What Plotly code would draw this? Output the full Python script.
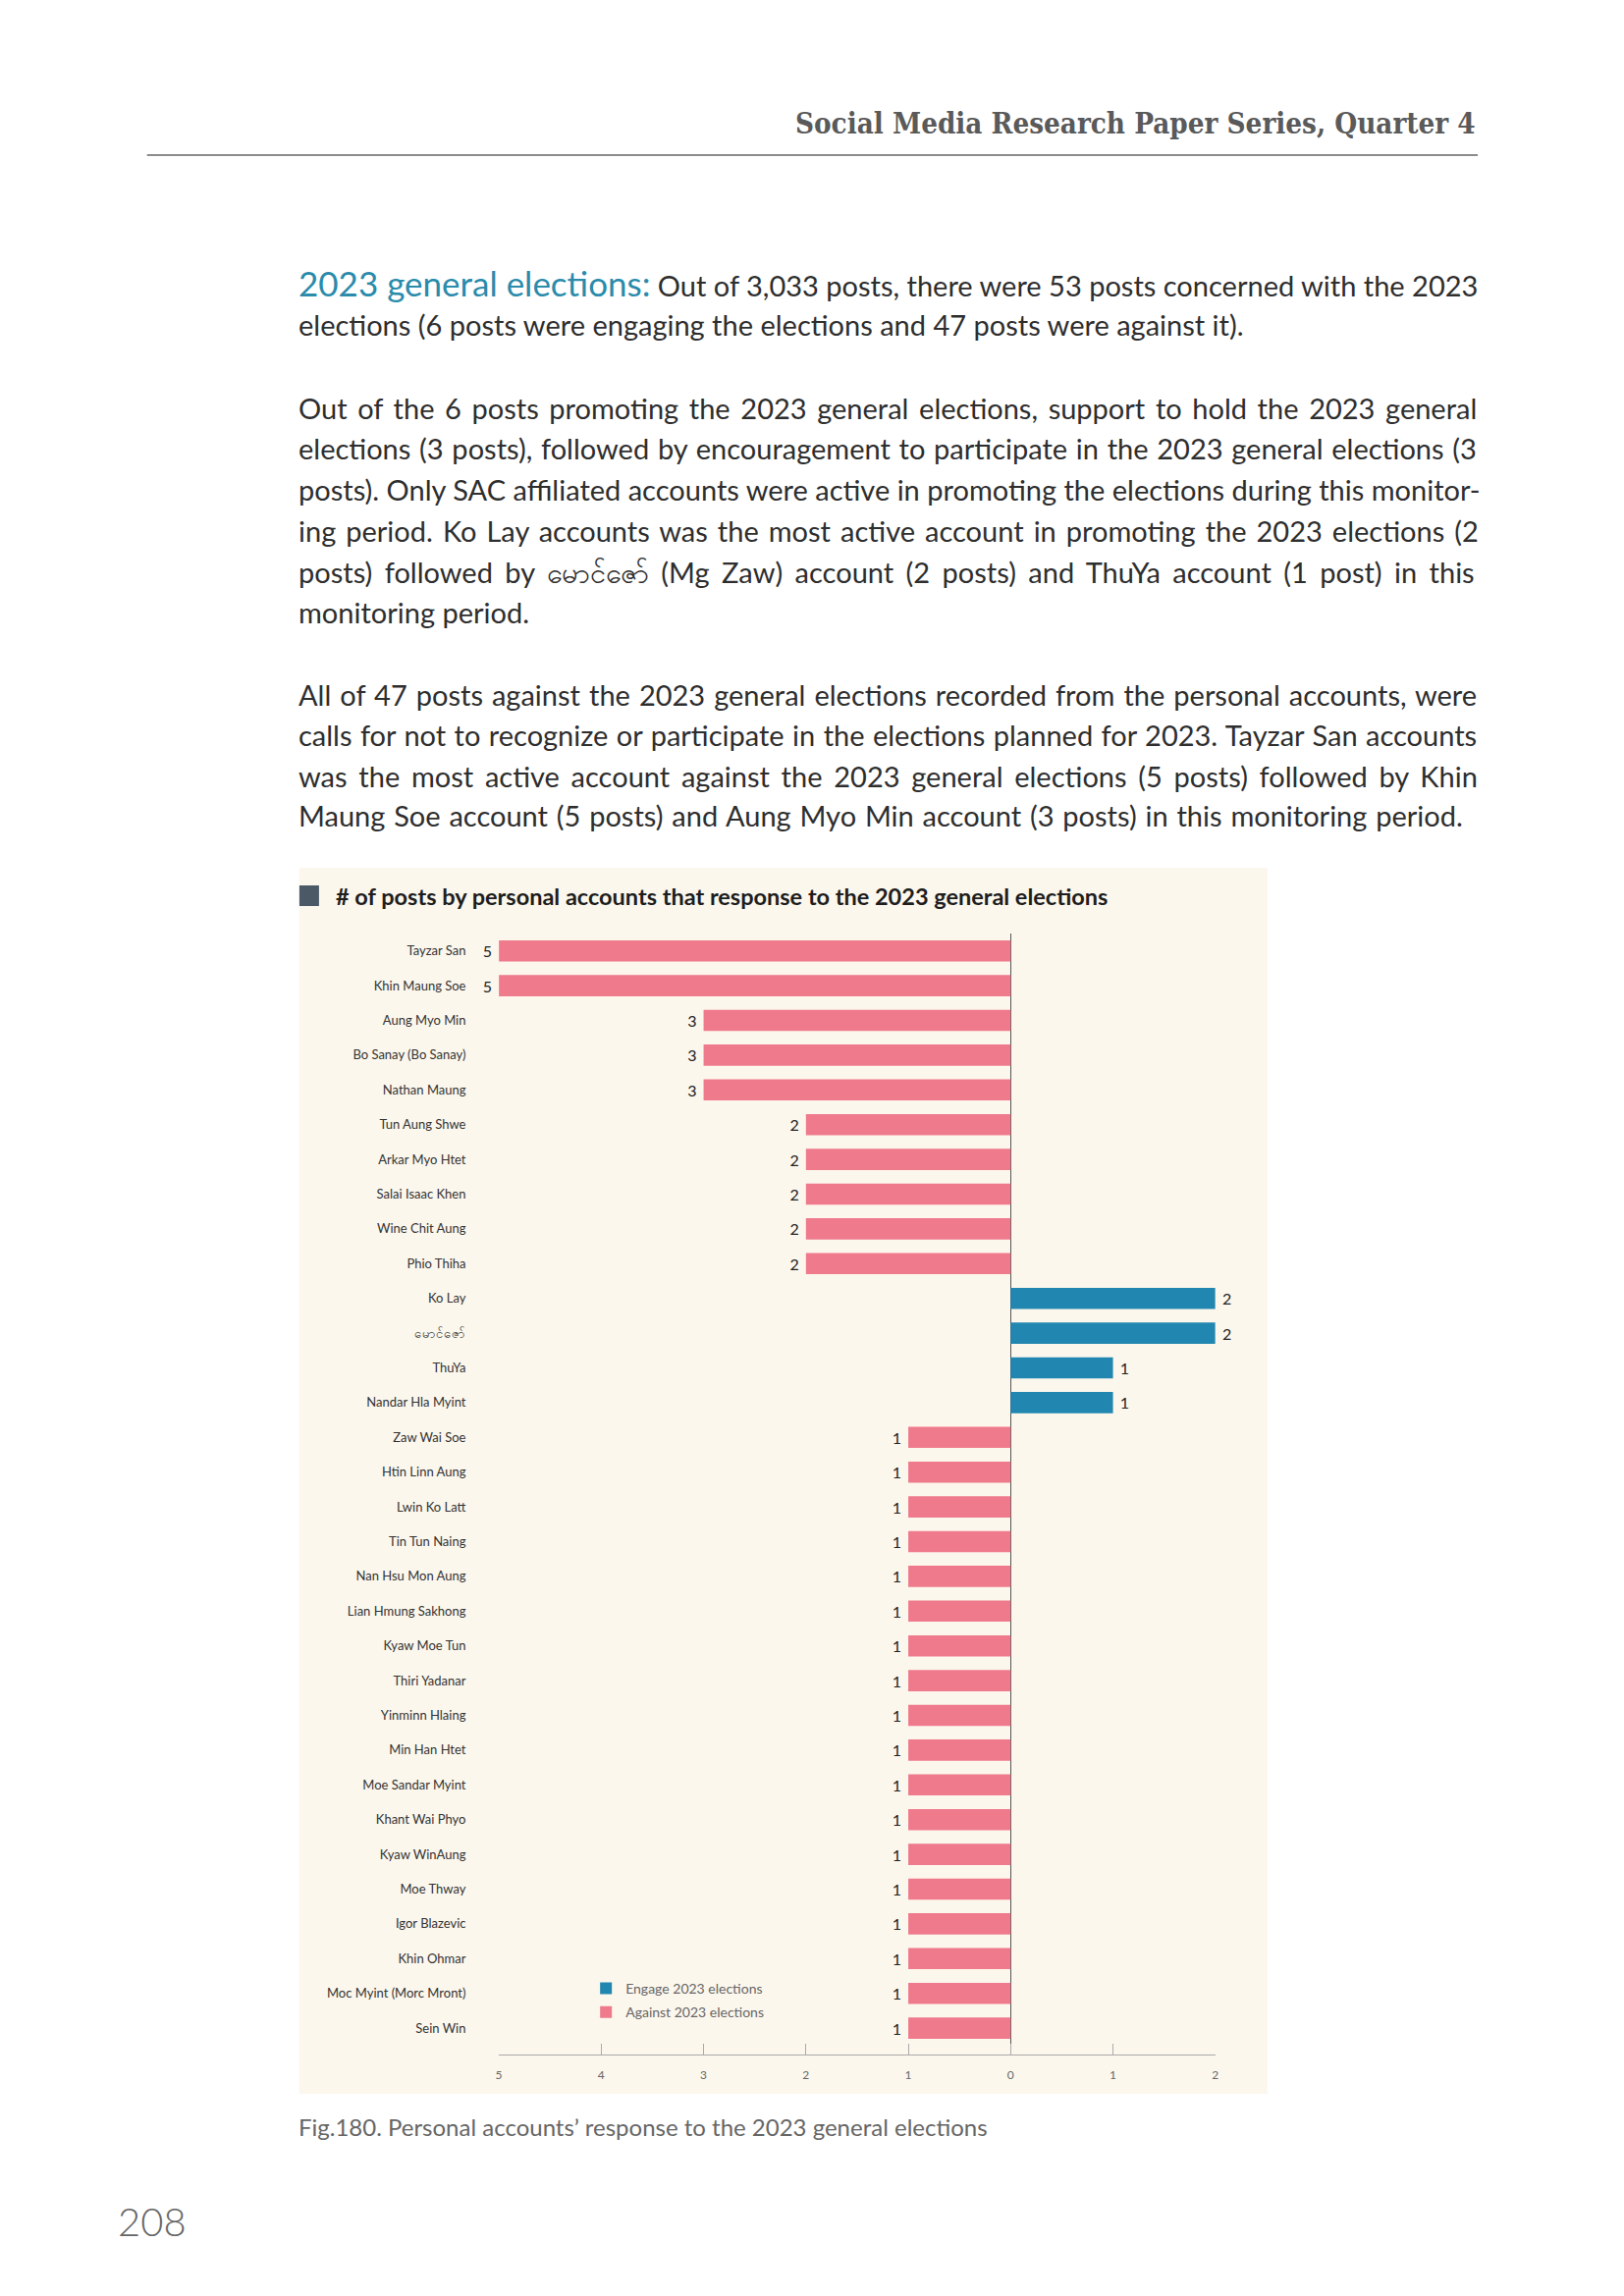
import plotly.graph_objects as go

# ---------------- data ----------------
accounts = [
    "Tayzar San", "Khin Maung Soe", "Aung Myo Min", "Bo Sanay (Bo Sanay)", "Nathan Maung",
    "Tun Aung Shwe", "Arkar Myo Htet", "Salai Isaac Khen", "Wine Chit Aung", "Phio Thiha",
    "Ko Lay", "မောင်ဇော်", "ThuYa", "Nandar Hla Myint",
    "Zaw Wai Soe", "Htin Linn Aung", "Lwin Ko Latt", "Tin Tun Naing", "Nan Hsu Mon Aung",
    "Lian Hmung Sakhong", "Kyaw Moe Tun", "Thiri Yadanar", "Yinminn Hlaing", "Min Han Htet",
    "Moe Sandar Myint", "Khant Wai Phyo", "Kyaw WinAung", "Moe Thway", "Igor Blazevic",
    "Khin Ohmar", "Moc Myint (Morc Mront)", "Sein Win",
]
engage_accounts = ["Ko Lay", "မောင်ဇော်", "ThuYa", "Nandar Hla Myint"]
engage_posts = [2, 2, 1, 1]
against_accounts = [
    "Tayzar San", "Khin Maung Soe", "Aung Myo Min", "Bo Sanay (Bo Sanay)", "Nathan Maung",
    "Tun Aung Shwe", "Arkar Myo Htet", "Salai Isaac Khen", "Wine Chit Aung", "Phio Thiha",
    "Zaw Wai Soe", "Htin Linn Aung", "Lwin Ko Latt", "Tin Tun Naing", "Nan Hsu Mon Aung",
    "Lian Hmung Sakhong", "Kyaw Moe Tun", "Thiri Yadanar", "Yinminn Hlaing", "Min Han Htet",
    "Moe Sandar Myint", "Khant Wai Phyo", "Kyaw WinAung", "Moe Thway", "Igor Blazevic",
    "Khin Ohmar", "Moc Myint (Morc Mront)", "Sein Win",
]
against_posts = [5, 5, 3, 3, 3, 2, 2, 2, 2, 2, 1, 1, 1, 1, 1, 1, 1, 1, 1, 1, 1, 1, 1, 1, 1, 1, 1, 1]
x_tick_values = [-5, -4, -3, -2, -1, 0, 1, 2]
x_tick_labels = ["5", "4", "3", "2", "1", "0", "1", "2"]
series_names = ["Engage 2023 elections", "Against 2023 elections"]

header_text = "Social Media Research Paper Series, Quarter 4"
chart_title = "# of posts by personal accounts that response to the 2023 general elections"
caption = "Fig.180. Personal accounts’ response to the 2023 general elections"
page_number = "208"
para1 = [
    "<span style='color:#2a8bab;font-size:35px'>2023 general elections:</span> Out of 3,033 posts, there were 53 posts concerned with the 2023",
    "elections (6 posts were engaging the elections and 47 posts were against it).",
]
para2 = [
    "Out of the 6 posts promoting the 2023 general elections, support to hold the 2023 general",
    "elections (3 posts), followed by encouragement to participate in the 2023 general elections (3",
    "posts). Only SAC affiliated accounts were active in promoting the elections during this monitor-",
    "ing period. Ko Lay accounts was the most active account in promoting the 2023 elections (2",
    "posts) followed by မောင်ဇော် (Mg Zaw) account (2 posts) and ThuYa account (1 post) in this",
    "monitoring period.",
]
para3 = [
    "All of 47 posts against the 2023 general elections recorded from the personal accounts, were",
    "calls for not to recognize or participate in the elections planned for 2023. Tayzar San accounts",
    "was the most active account against the 2023 general elections (5 posts) followed by Khin",
    "Maung Soe account (5 posts) and Aung Myo Min account (3 posts) in this monitoring period.",
]

# ---------------- layout helpers (page pixel coords) ----------------
W, H = 1646, 2323
X_OFF, X_SPAN = 10.4, 1637.4
Y_OFF = 8
def px(x):
    return (x - X_OFF) / X_SPAN
def py(y):
    return 1 - (y - Y_OFF) / H

PINK = "#ef7a8c"
BLUE = "#2187b0"
CREAM = "#fcf7ed"
BODY_FONT = "Lato"
BODY_SIZE = 29
TEXT_LEFT = 301.5

# word spacing (px) used to justify each body line to the right margin
ws1 = [0, 0]
ws2 = [3.2, 1.3, 0, 2.6, 5.0, 0]
ws3 = [1.6, 1.0, 4.3, 1.4]

fig = go.Figure()
fig.add_trace(go.Bar(
    y=engage_accounts, x=engage_posts, orientation="h", name=series_names[0],
    legendgroup="engage",
    marker=dict(color=BLUE, line=dict(width=0)),
    text=["\u00a0" + str(v) for v in engage_posts], textposition="outside",
    textfont=dict(size=16, color="#222", family=BODY_FONT), cliponaxis=False,
))
fig.add_trace(go.Bar(
    y=against_accounts, x=[-v for v in against_posts], orientation="h", name=series_names[1],
    legendgroup="against",
    marker=dict(color=PINK, line=dict(width=0)),
    text=[str(v) + "\u00a0" for v in against_posts], textposition="outside",
    textfont=dict(size=16, color="#222", family=BODY_FONT), cliponaxis=False,
))

plot_left, plot_right = 507, 1236
plot_top, plot_bottom = 951, 2093
row_h = 35.4
n_extra = (plot_bottom - plot_top) / row_h - len(accounts)

fig.update_layout(
    width=W, height=H, autosize=False,
    margin=dict(l=0, r=0, t=0, b=0),
    paper_bgcolor="white", plot_bgcolor="rgba(0,0,0,0)",
    barmode="overlay", bargap=0.39,
    font=dict(family=BODY_FONT, color="#333"),
    showlegend=True,
    legend=dict(x=px(596), y=py(2010), xanchor="left", yanchor="top",
                bgcolor="rgba(0,0,0,0)", font=dict(size=14, color="#666", family=BODY_FONT),
                traceorder="grouped", itemwidth=30, tracegroupgap=3),
    xaxis=dict(domain=[px(plot_left), px(plot_right)], range=[-5, 2], fixedrange=True,
               tickmode="array", tickvals=x_tick_values, ticktext=x_tick_labels,
               ticks="inside", ticklen=11, tickcolor="#aaa", tickwidth=1,
               showline=True, linecolor="#aaa", linewidth=1, showgrid=False,
               zeroline=True, zerolinecolor="#555", zerolinewidth=1,
               ticklabelstandoff=10,
               tickfont=dict(size=12, color="#666", family=BODY_FONT)),
    yaxis=dict(domain=[py(plot_bottom), py(plot_top)],
               categoryorder="array", categoryarray=accounts,
               range=[len(accounts) - 0.5 + n_extra, -0.5],
               ticks="outside", ticklen=30, tickcolor="rgba(0,0,0,0)",
               showgrid=False, showline=False, zeroline=False,
               tickfont=dict(size=13, color="#333", family=BODY_FONT)),
)

shapes = [
    dict(type="rect", xref="paper", yref="paper", x0=px(304), x1=px(1289), y0=py(2133), y1=py(884),
         fillcolor=CREAM, line=dict(width=0), layer="below"),
    dict(type="rect", xref="paper", yref="paper", x0=px(304), x1=px(324), y0=py(923), y1=py(902),
         fillcolor="#4b5866", line=dict(width=0), layer="above"),
    dict(type="line", xref="paper", yref="paper", x0=px(149), x1=px(1503), y0=py(158), y1=py(158),
         line=dict(color="#8c8c8c", width=2)),
]
fig.update_layout(shapes=shapes)

def jline(text, ws):
    if ws:
        return f"<span style='word-spacing:{ws}px'>{text}</span>"
    return text

ann = []
ann.append(dict(text=header_text, x=px(1503), y=py(125), xanchor="right", yanchor="middle",
                font=dict(family="DejaVu Serif Condensed", size=29.3, color="#5a5a5a", weight="bold")))
for line, yy, ws in zip(para1, [288, 330], ws1):
    ann.append(dict(text=jline(line, ws), x=px(TEXT_LEFT), y=py(yy), xanchor="left", yanchor="middle",
                    font=dict(family=BODY_FONT, size=BODY_SIZE, color="#2e2e2e")))
for line, yy, ws in zip(para2, [415, 456, 498, 540, 582, 623], ws2):
    ann.append(dict(text=jline(line, ws), x=px(TEXT_LEFT), y=py(yy), xanchor="left", yanchor="middle",
                    font=dict(family=BODY_FONT, size=BODY_SIZE, color="#2e2e2e")))
for line, yy, ws in zip(para3, [707, 749, 790, 831], ws3):
    ann.append(dict(text=jline(line, ws), x=px(TEXT_LEFT), y=py(yy), xanchor="left", yanchor="middle",
                    font=dict(family=BODY_FONT, size=BODY_SIZE, color="#2e2e2e")))
ann.append(dict(text=chart_title, x=px(339), y=py(913), xanchor="left", yanchor="middle",
                font=dict(family=BODY_FONT, size=23.5, color="#1e1e1e", weight="bold")))
ann.append(dict(text=caption, x=px(TEXT_LEFT), y=py(2166), xanchor="left", yanchor="middle",
                font=dict(family=BODY_FONT, size=24, color="#666")))
ann.append(dict(text=page_number, x=px(117), y=py(2263), xanchor="left", yanchor="middle",
                font=dict(family=BODY_FONT, size=40, color="#666", weight=300)))
for a in ann:
    a.update(xref="paper", yref="paper", showarrow=False)
fig.update_layout(annotations=ann)

fig.write_html("out.html")
